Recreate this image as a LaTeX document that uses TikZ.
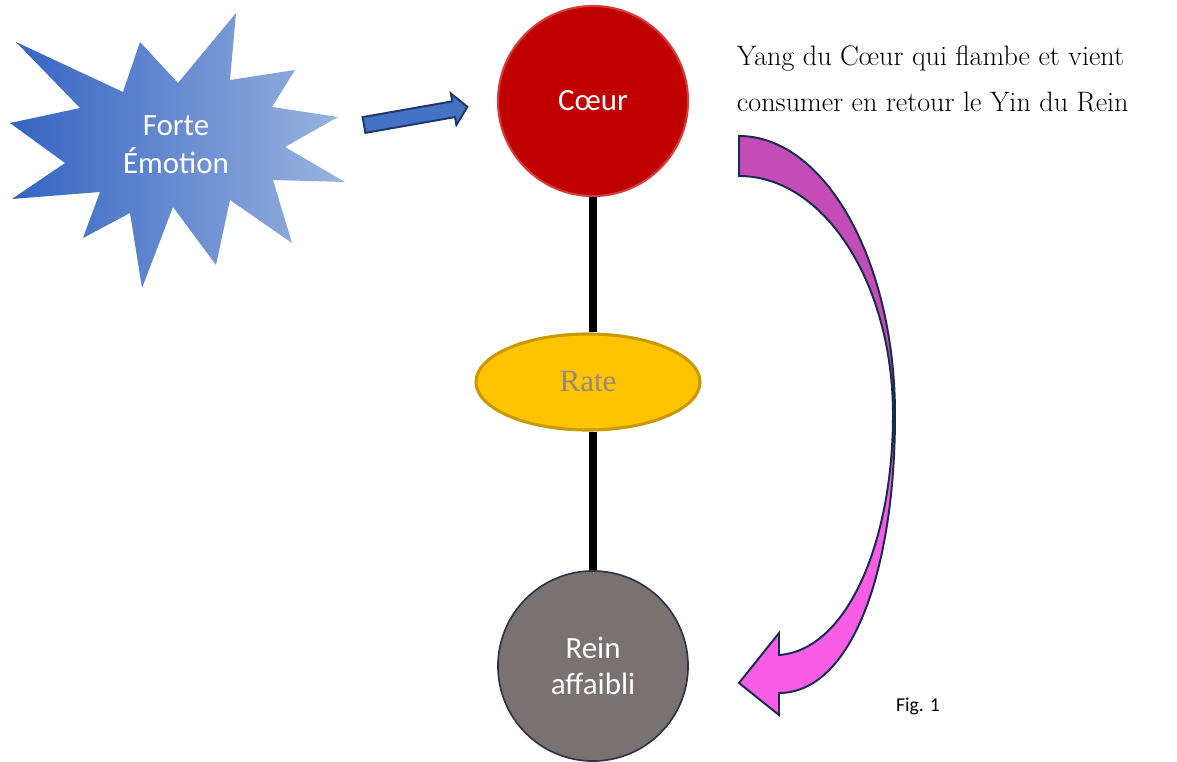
\documentclass[tikz,border=0pt]{standalone}
\usepackage{fontspec}
\newfontfamily\calibri{Carlito}
\newfontfamily\timesfont{Liberation Serif}
\usetikzlibrary{positioning}
\usetikzlibrary{shapes.geometric}

\definecolor{burstdark}{HTML}{3464C2}
\definecolor{burstlight}{HTML}{9BB3DF}
\definecolor{coeurred}{HTML}{C00000}
\definecolor{coeurrim}{HTML}{D63A3A}
\definecolor{rategold}{HTML}{FFC300}
\definecolor{raterim}{HTML}{C99A00}
\definecolor{rategrey}{HTML}{978A7A}
\definecolor{reingrey}{HTML}{7A7270}
\definecolor{reinrim}{HTML}{2F3447}
\definecolor{arrowblue}{HTML}{4472C4}
\definecolor{arrownavy}{HTML}{1F3864}
\definecolor{yangdark}{HTML}{C44CB6}
\definecolor{yangpink}{HTML}{F95DE5}
\definecolor{yangline}{HTML}{1A2B4C}

\begin{document}
\begin{tikzpicture}[x=0.025cm,y=-0.025cm,
  organ/.style={circle,minimum size=4.75cm,inner sep=0pt,text=white,align=center,
    font=\calibri\fontsize{22}{26}\selectfont},
  link/.style={line width=5.7pt,black},
  outlined/.style={draw=yangline,line width=1.4pt}]
\useasboundingbox (0,0) rectangle (1177,762);

% forte emotion
\shade[left color=burstdark,right color=burstlight] (16,42) -- (123,92) -- (140,42) -- (178,83) -- (236,13) -- (230,80) -- (295,70) -- (272,107) -- (338,117) -- (285,147) -- (345,182) -- (273,180) -- (292,243) -- (230,200) -- (216,265) -- (173,207) -- (142,288) -- (130,213) -- (83,238) -- (100,192) -- (12,199) -- (65,163) -- (10,123) -- (80,108) -- cycle;
\node[text=white,align=center,font=\calibri\fontsize{22}{27}\selectfont] (emotion) at (176,145) {Forte\\Émotion};

% organs
\node[organ,fill=coeurred,draw=coeurrim,line width=1.5pt] (coeur) at (593,101) {Cœur};
\node[ellipse,minimum width=5.6cm,minimum height=2.4cm,fill=rategold,draw=raterim,line width=2.2pt,
  text=rategrey,font=\timesfont\fontsize{22}{26}\selectfont] (rate) at (588,382) {Rate};
\node[organ,fill=reingrey,draw=reinrim,line width=1.2pt] (rein) at (593,666) {Rein\\affaibli};

\draw[link] (coeur.south) -- (coeur.south |- rate.north);
\draw[link] (coeur.south |- rate.south) -- (rein.north);

% blue arrow
\coordinate (atail) at (364,125);
\begin{scope}[shift={(atail)},rotate=10]
\draw[fill=arrowblue,draw=arrownavy,line width=1.4pt] (0,-8) -- (91,-8) -- (91,-16) -- (105,0) -- (91,16) -- (91,8) -- (0,8) -- cycle;
\end{scope}

% yang arrow
\filldraw[fill=yangdark,outlined] (739,136) .. controls (825,136) and (895,261) .. (895,415) -- (893,415) .. controls (893,283) and (824,176) .. (739,176) -- cycle;
\filldraw[fill=yangpink,outlined] (895,415) .. controls (895,575) and (850,693) .. (779,693) -- (779,715) -- (739,683) -- (779,633) -- (779,655) .. controls (848,650) and (893,540) .. (893,415) -- cycle;

\node[anchor=west,align=left,font=\fontsize{20}{33}\selectfont] (yang) at (732,79) {Yang du Cœur qui flambe et vient\\consumer en retour le Yin du Rein};
\node[font=\calibri\fontsize{14}{17}\selectfont] (fig) at (918,706) {Fig. 1};

\end{tikzpicture}
\end{document}
